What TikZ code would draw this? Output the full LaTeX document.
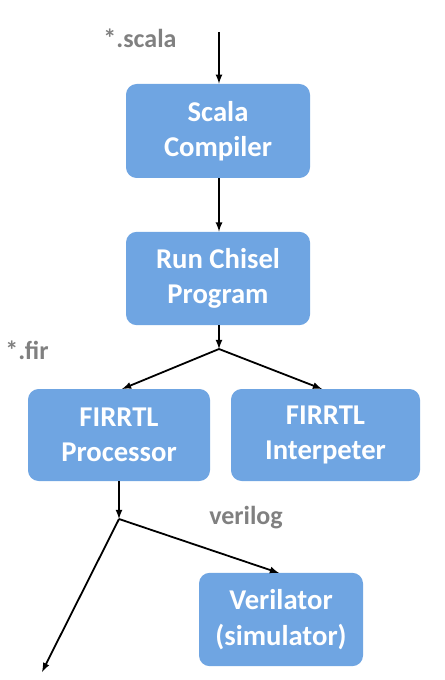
\documentclass[tikz,border=0pt]{standalone}
\usepackage{fontspec}
\setmainfont{Carlito}
\usepackage{tikz}
\usetikzlibrary{arrows, positioning}

\definecolor{boxblue}{RGB}{111,165,226}
\definecolor{lblgray}{RGB}{128,128,128}

\tikzset{
  flowbox/.style={fill=boxblue, draw=none, rounded corners=8pt, align=center,
    text=white, font=\fontsize{21.5}{26.5}\selectfont\bfseries},
  filelbl/.style={text=lblgray, font=\fontsize{19.5}{22}\selectfont\bfseries},
  flow/.style={->, >=latex, line width=1.35pt}
}

\begin{document}
\begin{tikzpicture}[x=0.75pt,y=0.75pt,yscale=-1,xscale=1]
        \useasboundingbox (0,0) rectangle (444,680);
        % boxes
        \node (scalac) [flowbox, minimum width=138pt, minimum height=70.5pt] at (218,131) {Scala\\Compiler};
        \node (chisel) [flowbox, minimum width=138pt, minimum height=70pt] at (218,278.5) {Run Chisel\\Program};
        \node (proc) [flowbox, minimum width=136.5pt, minimum height=69pt] at (119,435) {FIRRTL\\Processor};
        \node (interp) [flowbox, minimum width=141.75pt, minimum height=69pt] at (325.5,435) {FIRRTL\\Interpeter};
        \node (veril) [flowbox, minimum width=123pt, minimum height=70pt] at (281,619.5) {Verilator\\(simulator)};
        % file labels
        \node (scalalbl) [filelbl] at (140,38) {*.scala};
        \node (firlbl) [filelbl] at (27,350) {*.fir};
        \node (veriloglbl) [filelbl] at (246,518) {verilog};
        % free ends
        \coordinate (src) at (219,32);
        \coordinate (firsplit) at (219,349);
        \coordinate (vsplit) at (119,519);
        \coordinate (out) at (42,672);
        % connectors
        \draw [flow] (src) -- (scalac.north -| src);
        \draw [flow] (scalac.south -| src) -- (chisel.north -| src);
        \draw [flow] (chisel.south -| src) -- (firsplit);
        \draw [flow] (firsplit) -- (122,389);
        \draw [flow] (firsplit) -- (322,389);
        \draw [flow] (proc.south) -- (vsplit);
        \draw [flow] (vsplit) -- (out);
        \draw [flow] (vsplit) -- (279,573);
    \end{tikzpicture}
\end{document}
